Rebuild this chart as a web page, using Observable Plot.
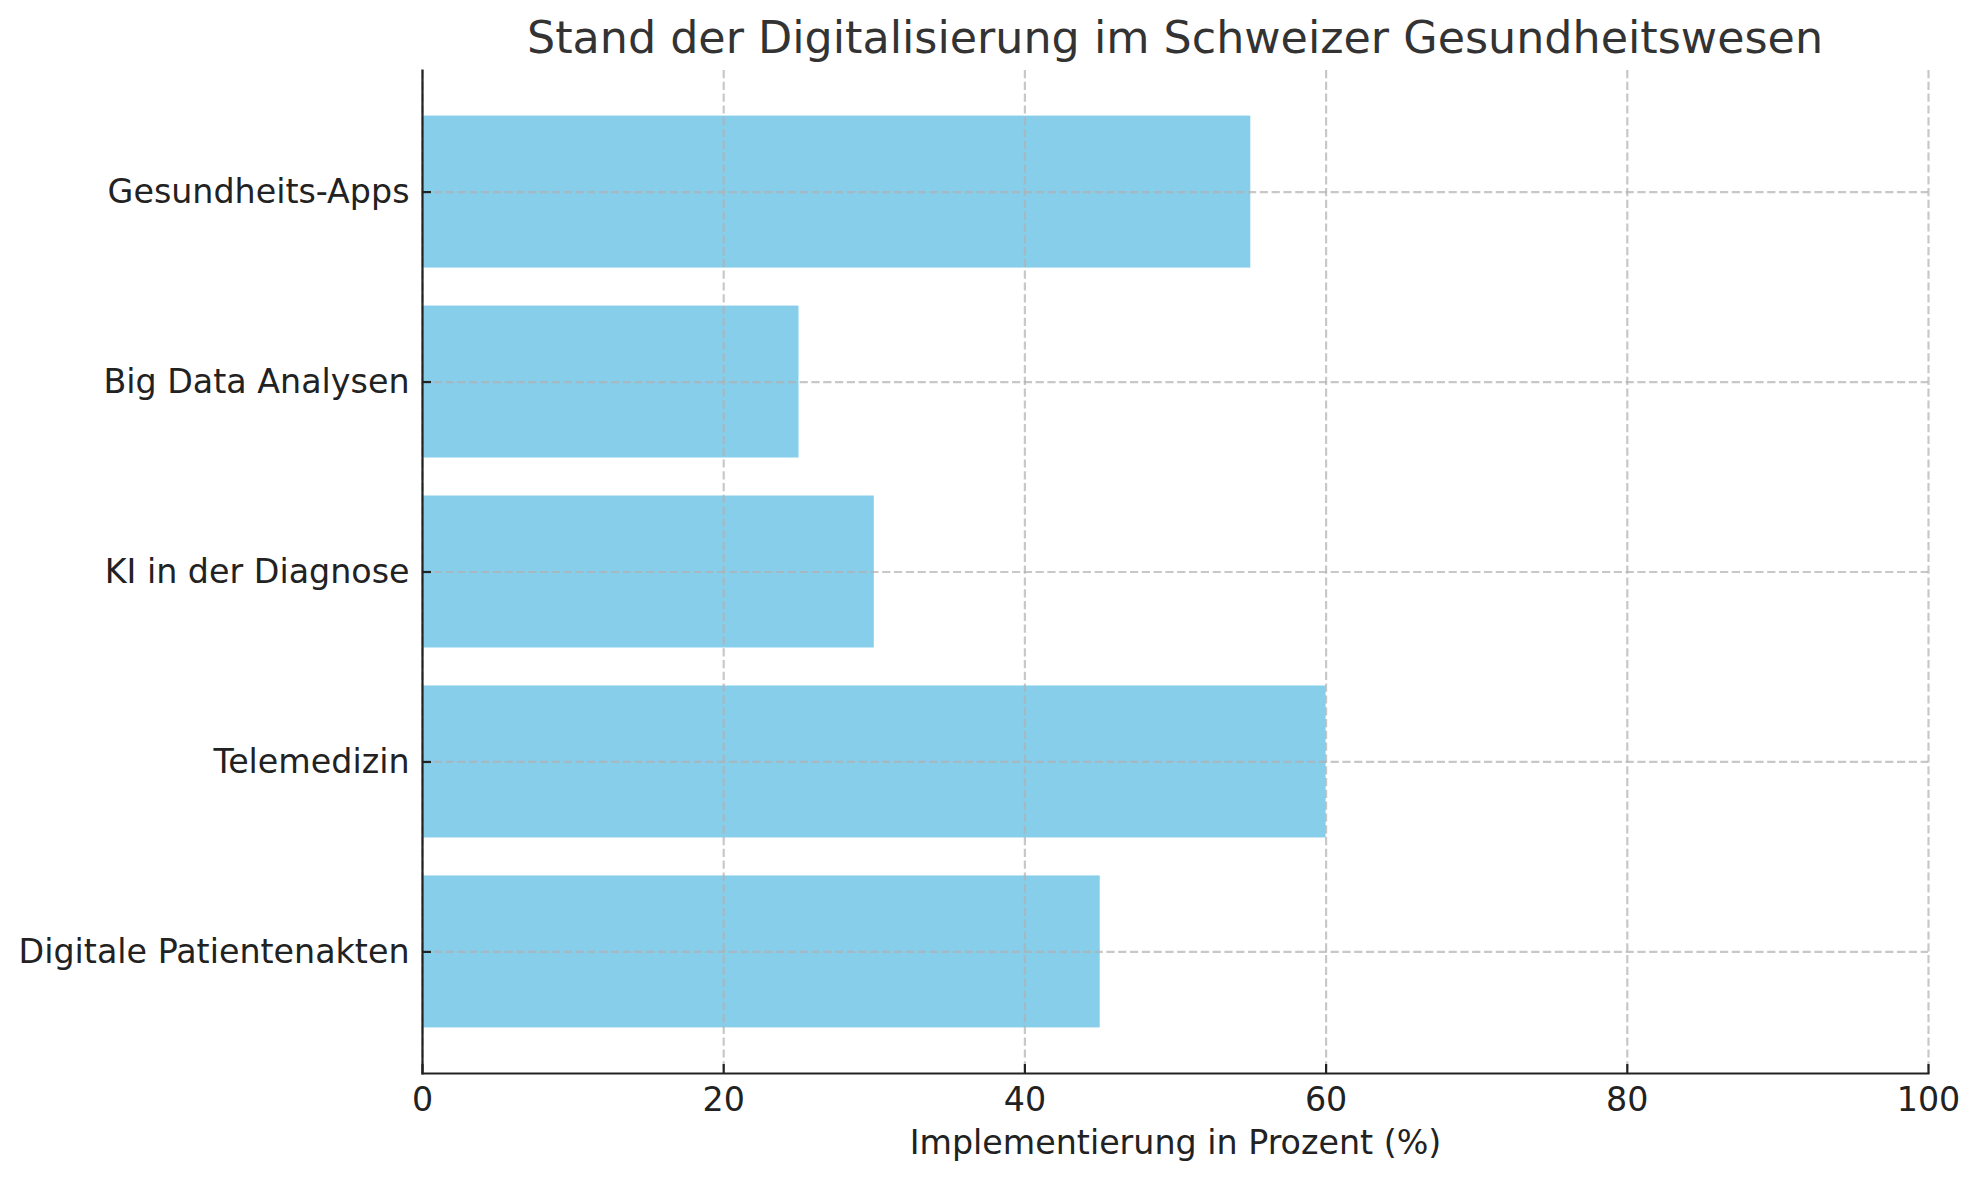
<!DOCTYPE html>
<html>
<head>
<meta charset="utf-8">
<script src="https://cdn.jsdelivr.net/npm/d3@7"></script>
<script src="https://cdn.jsdelivr.net/npm/@observablehq/plot@0.6"></script>
<style>
  html, body { margin: 0; padding: 0; background: #fff; }
  #title-wrap { position: relative; width: 1979px; height: 60px; }
  #title {
    position: absolute; left: 422px; width: 1506px; top: 8px;
    text-align: center; line-height: 60px; white-space: nowrap;
    font-family: "DejaVu Sans", sans-serif; font-size: 44.4px; color: #333;
  }
  #chart svg { display: block; }
</style>
</head>
<body>
<div id="title-wrap"><div id="title">Stand der Digitalisierung im Schweizer Gesundheitswesen</div></div>
<div id="chart"></div>
<script>
const categories = ["Digitale Patientenakten", "Telemedizin", "KI in der Diagnose", "Big Data Analysen", "Gesundheits-Apps"];
const values = [45, 60, 30, 25, 55];
const xTicks = [0, 20, 40, 60, 80, 100];
const xLabel = "Implementierung in Prozent (%)";

const data = categories.map((c, i) => ({category: c, value: values[i]}));
const topDown = categories.slice().reverse();

const gridStyle = {stroke: "#b0b0b0", strokeOpacity: 0.7, strokeWidth: 2.2, strokeDasharray: "8.2,3.6"};
const ink = "#222";

const chart = Plot.plot({
  width: 1979,
  height: 1120,
  marginTop: 10,
  marginBottom: 107,
  marginLeft: 422,
  marginRight: 51,
  style: {fontFamily: "DejaVu Sans, sans-serif", fontSize: "33.3px", color: ink, background: "#fff"},
  x: {domain: [0, 100], ticks: xTicks},
  y: {type: "band", domain: topDown, paddingInner: 0.2, paddingOuter: 0.24, round: false},
  marks: [
    Plot.barX(data, {x: "value", y: "category", fill: "#87CEEB"}),
    Plot.gridX(xTicks, gridStyle),
    Plot.gridY(topDown, gridStyle),
    Plot.frame({anchor: "left", stroke: ink, strokeWidth: 2.2}),
    Plot.frame({anchor: "bottom", stroke: ink, strokeWidth: 2.2}),
    Plot.axisX(xTicks, {tickSize: -9, tickPadding: 23, strokeWidth: 2.2, stroke: ink, fill: ink, label: null}),
    Plot.axisY(topDown, {tickSize: -9, tickPadding: 22, strokeWidth: 2.2, stroke: ink, fill: ink, label: null}),
    Plot.text([xLabel], {text: d => d, frameAnchor: "bottom", lineAnchor: "middle", dy: 70, fill: ink, fontSize: 33.3})
  ]
});
document.getElementById("chart").appendChild(chart);
</script>
</body>
</html>
